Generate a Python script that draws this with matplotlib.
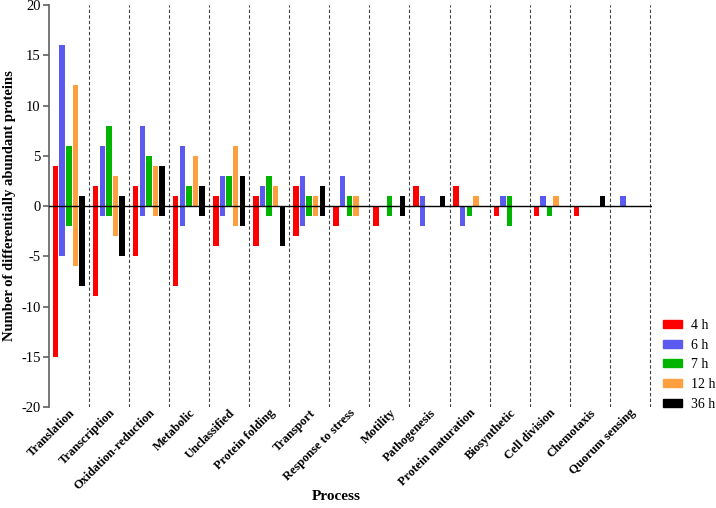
import numpy as np
import matplotlib
matplotlib.use("Agg")
import matplotlib.pyplot as plt
from matplotlib.patches import Patch

plt.rcParams['font.family'] = ['Liberation Serif', 'DejaVu Serif']
plt.rcParams['axes.unicode_minus'] = False

# Categorias (procesos)
categorias = ['Translation', 'Transcription', 'Oxidation-reduction', 'Metabolic',
              'Unclassified', 'Protein folding', 'Transport', 'Response to stress',
              'Motility', 'Pathogenesis', 'Protein maturation', 'Biosynthetic',
              'Cell division', 'Chemotaxis', 'Quorum sensing']

tiempos = ['4 h', '6 h', '7 h', '12 h', '36 h']

# Proteinas aumentadas (positivas) y disminuidas (negativas) por tiempo
up_4h = [4, 2, 2, 1, 1, 1, 2, 0, 0, 2, 2, 0, 0, 0, 0]
down_4h = [-15, -9, -5, -8, -4, -4, -3, -2, -2, 0, 0, -1, -1, -1, 0]
up_6h = [16, 6, 8, 6, 3, 2, 3, 3, 0, 1, 0, 1, 1, 0, 1]
down_6h = [-5, -1, -1, -2, -1, 0, -2, 0, 0, -2, -2, 0, 0, 0, 0]
up_7h = [6, 8, 5, 2, 3, 3, 1, 1, 1, 0, 0, 1, 0, 0, 0]
down_7h = [-2, -1, 0, 0, 0, -1, -1, -1, -1, 0, -1, -2, -1, 0, 0]
up_12h = [12, 3, 4, 5, 6, 2, 1, 1, 0, 0, 1, 0, 1, 0, 0]
down_12h = [-6, -3, -1, 0, -2, 0, -1, -1, 0, 0, 0, 0, 0, 0, 0]
up_36h = [1, 1, 4, 2, 3, 0, 2, 0, 1, 1, 0, 0, 0, 1, 0]
down_36h = [-8, -5, -1, -1, -2, -4, -1, 0, -1, 0, 0, 0, 0, 0, 0]

subidas = [up_4h, up_6h, up_7h, up_12h, up_36h]
bajadas = [down_4h, down_6h, down_7h, down_12h, down_36h]
colores = ['#ff0000', '#5a5af0', '#00b400', '#ffa040', '#000000']

fig = plt.figure(figsize=(7.16, 5.08), dpi=100)
ax = fig.add_axes([0.0684, 0.1988, 0.842, 0.7912])

x = np.arange(len(categorias)) + 0.5
ancho = 0.135
desplaz = [-0.335, -0.17, -0.005, 0.16, 0.325]

for sub, baj, col, d in zip(subidas, bajadas, colores, desplaz):
    ax.bar(x + d, sub, width=ancho, color=col, linewidth=0, zorder=3)
    ax.bar(x + d, baj, width=ancho, color=col, linewidth=0, zorder=3)

# lineas divisorias
for i in range(1, len(categorias) + 1):
    ax.plot([i, i], [-20, 20], color='#404040', linestyle=(0, (3, 2)), linewidth=0.8, zorder=1)
ax.axhline(0, color='black', linewidth=1.0, zorder=4)

ax.set_xlim(0, len(categorias) + 0.05)
ax.set_ylim(-20, 20)
ax.set_yticks(np.arange(-20, 21, 5))
ax.set_yticklabels([str(v) for v in range(-20, 21, 5)], fontsize=10.5)

ax.set_xticks(x)
ax.set_xticklabels(categorias, rotation=45, ha='right', va='top', rotation_mode='anchor',
                   fontsize=9, fontweight='bold')
ax.tick_params(axis='x', length=0, pad=0)
ax.tick_params(axis='y', length=4, width=1.2, color='#606060', pad=2)

for s in ['top', 'right', 'bottom']:
    ax.spines[s].set_visible(False)
ax.spines['left'].set_color('#606060')
ax.spines['left'].set_linewidth(1.2)

ax.set_ylabel('Number of differentially abundant proteins', fontsize=10.5, fontweight='bold', labelpad=4)
fig.text(0.47, 0.022, 'Process', fontsize=11, fontweight='bold', ha='center', va='center')

handles = [Patch(color=c, label=t) for c, t in zip(colores, tiempos)]
fig.legend(handles=handles, loc='upper left', bbox_to_anchor=(0.926, 0.372), frameon=False,
           fontsize=10, handlelength=1.37, handleheight=0.5, labelspacing=0.48,
           handletextpad=0.65, borderpad=0, borderaxespad=0)

fig.savefig('out.png', dpi=100)
